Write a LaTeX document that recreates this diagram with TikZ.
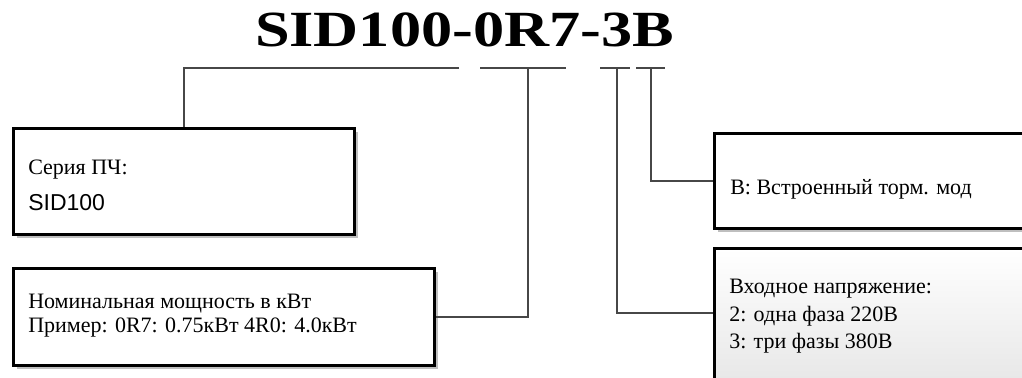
\documentclass[tikz,border=0pt]{standalone}
\usepackage{fontspec}
\setmainfont{Liberation Serif}
\newfontfamily\arialfont{Liberation Sans}
\usetikzlibrary{calc,shadows}

\begin{document}
\begin{tikzpicture}[x=0.75pt,y=-0.75pt,
  box/.style={draw=black, line width=2.2pt, fill=white, anchor=north west, inner sep=0pt,
    drop shadow={shadow xshift=2.5pt, shadow yshift=-2.5pt, fill=black!25, opacity=1}},
  wire/.style={draw=black!72, line width=1.6pt},
  lbl/.style={anchor=base west, inner sep=0pt, font=\fontsize{16.5}{18}\selectfont}]
\useasboundingbox (0,0) rectangle (1022,378);

% model code
\node[anchor=base, inner sep=0pt] (code) at (464.5,47)
  {\fontsize{38}{40}\selectfont\bfseries\scalebox{1.23}[1]{SID100-0R7-3B}};

% boxes
\node[box, minimum width=255.75pt, minimum height=79.5pt] (series) at (12,127) {};
\node[box, minimum width=315.75pt, minimum height=72.75pt] (power) at (12,267) {};
\node[box, minimum width=245.25pt, minimum height=71.25pt] (brake) at (713,132) {};
\node[box, minimum width=245.25pt, minimum height=129.75pt,
  top color=white, bottom color=black!12] (volt) at (713,247) {};

% texts
\node[lbl] (seriesA) at (28,175) {Серия ПЧ:};
\node[lbl, font=\arialfont\fontsize{17.25}{20}\selectfont] (seriesB) at (28,210) {SID100};
\node[lbl] (powerA) at (28,308) {Номинальная мощность в кВт};
\node[lbl] (powerB) at (28,332) {Пример: 0R7: 0.75кВт 4R0: 4.0кВт};
\node[lbl] (brakeT) at (730,195) {B: Встроенный торм. мод};
\node[lbl] (voltA) at (729,293) {Входное напряжение:};
\node[lbl] (voltB) at (729,321) {2: одна фаза 220В};
\node[lbl] (voltC) at (729,348) {3: три фазы 380В};

% connectors
\draw[wire] (459,68) -| (series.north);
\draw[wire] (480,68) -- (566,68);
\draw[wire] (528,68) |- (power.east);
\draw[wire] (600,68) -- (630,68);
\draw[wire] (617,68) |- ($(volt.north west)+(0,66)$);
\draw[wire] (636,68) -- (665,68);
\draw[wire] (651,68) |- (brake.west);
\end{tikzpicture}
\end{document}
